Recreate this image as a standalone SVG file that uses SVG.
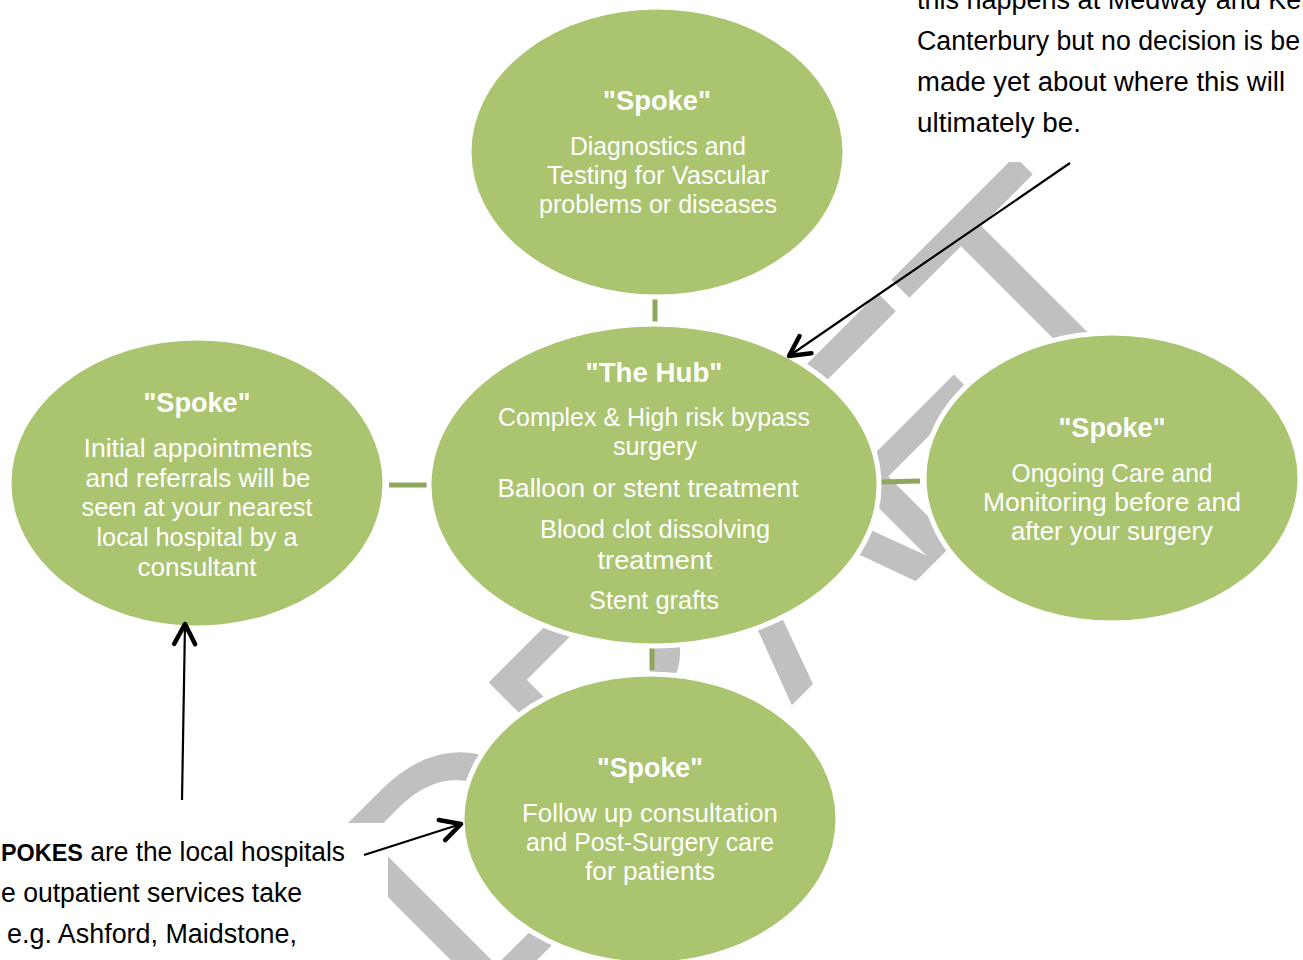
<svg xmlns="http://www.w3.org/2000/svg" width="1303" height="960" viewBox="0 0 1303 960">
<defs>
<style>
.node{fill:#ABC46F;stroke:#FFFFFF;stroke-width:5}
.hd{font-family:"Liberation Sans",Arial,sans-serif;font-size:27px;font-weight:bold;fill:#FFFFFF;text-anchor:middle}
.bd{font-family:"Liberation Sans",Arial,sans-serif;font-size:25px;fill:#FFFFFF;text-anchor:middle}
.note{font-family:"Liberation Sans",Arial,sans-serif;font-size:27px;fill:#000000}
.conn{stroke:#8EA75B;stroke-width:5;fill:none}
.arr{stroke:#000000;stroke-width:2.2;fill:none;marker-end:url(#head)}
.wm{font-family:"Liberation Sans",Arial,sans-serif;font-size:335px;fill:#C0C0C0}
</style>
<marker id="head" markerUnits="userSpaceOnUse" viewBox="-26 -15 32 30" markerWidth="32" markerHeight="30" refX="0" refY="0" orient="auto">
<path d="M-20,-10.5 L0,0 L-20,10.5" fill="none" stroke="#000000" stroke-width="4.5" stroke-linecap="round" stroke-linejoin="round"/>
</marker>
</defs>
<rect width="1303" height="960" fill="#FFFFFF"/>
<g id="watermark">
<text class="wm" x="0 241.9 483.8 675 879.5" y="0" transform="translate(476,1021) rotate(-45) scale(0.922,1)">DRAFT</text>
<rect x="900" y="0" width="403" height="162" fill="#FFFFFF"/>
<rect x="0" y="823" width="388" height="137" fill="#FFFFFF"/>
</g>
<g id="connectors">
<line class="conn" x1="655" y1="299" x2="655" y2="323"/>
<line class="conn" x1="389" y1="485" x2="428" y2="485"/>
<line class="conn" x1="880" y1="482" x2="920" y2="481"/>
<line class="conn" x1="652" y1="648" x2="652" y2="670"/>
</g>
<g id="spoke-top">
<ellipse class="node" cx="657" cy="152" rx="188" ry="145"/>
<text class="hd" x="657" y="110" textLength="108" lengthAdjust="spacingAndGlyphs">"Spoke"</text>
<text class="bd" x="658" y="155" textLength="176" lengthAdjust="spacingAndGlyphs">Diagnostics and</text>
<text class="bd" x="658" y="184" textLength="222" lengthAdjust="spacingAndGlyphs">Testing for Vascular</text>
<text class="bd" x="658" y="213" textLength="238" lengthAdjust="spacingAndGlyphs">problems or diseases</text>
</g>
<g id="hub">
<ellipse class="node" cx="654" cy="485" rx="225" ry="161"/>
<text class="hd" x="654" y="382" textLength="137" lengthAdjust="spacingAndGlyphs">"The Hub"</text>
<text class="bd" x="654" y="426" textLength="312" lengthAdjust="spacingAndGlyphs">Complex &amp; High risk bypass</text>
<text class="bd" x="655" y="455" textLength="84" lengthAdjust="spacingAndGlyphs">surgery</text>
<text class="bd" x="648" y="497" textLength="301" lengthAdjust="spacingAndGlyphs">Balloon or stent treatment</text>
<text class="bd" x="655" y="538" textLength="230" lengthAdjust="spacingAndGlyphs">Blood clot dissolving</text>
<text class="bd" x="655" y="569" textLength="115" lengthAdjust="spacingAndGlyphs">treatment</text>
<text class="bd" x="654" y="609" textLength="130" lengthAdjust="spacingAndGlyphs">Stent grafts</text>
</g>
<g id="spoke-left">
<ellipse class="node" cx="197" cy="483" rx="188" ry="145"/>
<text class="hd" x="197" y="412" textLength="107" lengthAdjust="spacingAndGlyphs">"Spoke"</text>
<text class="bd" x="198" y="457" textLength="229" lengthAdjust="spacingAndGlyphs">Initial appointments</text>
<text class="bd" x="198" y="487" textLength="225" lengthAdjust="spacingAndGlyphs">and referrals will be</text>
<text class="bd" x="197" y="516" textLength="231" lengthAdjust="spacingAndGlyphs">seen at your nearest</text>
<text class="bd" x="197" y="546" textLength="201" lengthAdjust="spacingAndGlyphs">local hospital by a</text>
<text class="bd" x="197" y="576" textLength="119" lengthAdjust="spacingAndGlyphs">consultant</text>
</g>
<g id="spoke-right">
<ellipse class="node" cx="1112" cy="478" rx="188" ry="145"/>
<text class="hd" x="1112" y="437" textLength="107" lengthAdjust="spacingAndGlyphs">"Spoke"</text>
<text class="bd" x="1112" y="482" textLength="201" lengthAdjust="spacingAndGlyphs">Ongoing Care and</text>
<text class="bd" x="1112" y="511" textLength="258" lengthAdjust="spacingAndGlyphs">Monitoring before and</text>
<text class="bd" x="1112" y="540" textLength="202" lengthAdjust="spacingAndGlyphs">after your surgery</text>
</g>
<g id="spoke-bottom">
<ellipse class="node" cx="650" cy="819" rx="188" ry="145"/>
<text class="hd" x="650" y="777" textLength="106" lengthAdjust="spacingAndGlyphs">"Spoke"</text>
<text class="bd" x="650" y="822" textLength="256" lengthAdjust="spacingAndGlyphs">Follow up consultation</text>
<text class="bd" x="650" y="851" textLength="248" lengthAdjust="spacingAndGlyphs">and Post-Surgery care</text>
<text class="bd" x="650" y="880" textLength="130" lengthAdjust="spacingAndGlyphs">for patients</text>
</g>
<g id="note-hub">
<text class="note" x="917" y="9">this happens at Medway and Ken</text>
<text class="note" x="917" y="50" textLength="383" lengthAdjust="spacingAndGlyphs">Canterbury but no decision is be</text>
<text class="note" x="917" y="91" textLength="368" lengthAdjust="spacingAndGlyphs">made yet about where this will</text>
<text class="note" x="917" y="132" textLength="164" lengthAdjust="spacingAndGlyphs">ultimately be.</text>
</g>
<g id="note-spokes">
<text class="note" x="1" y="861" textLength="344" lengthAdjust="spacingAndGlyphs"><tspan font-weight="bold" font-size="24px">POKES</tspan> are the local hospitals</text>
<text class="note" x="1" y="902" textLength="301" lengthAdjust="spacingAndGlyphs">e outpatient services take</text>
<text class="note" x="7" y="943" textLength="290" lengthAdjust="spacingAndGlyphs">e.g. Ashford, Maidstone,</text>
</g>
<g id="arrows">
<line class="arr" x1="1070" y1="163" x2="789" y2="356"/>
<line class="arr" x1="182" y1="800" x2="185" y2="624"/>
<line class="arr" x1="364" y1="855" x2="461" y2="824"/>
</g>
</svg>
